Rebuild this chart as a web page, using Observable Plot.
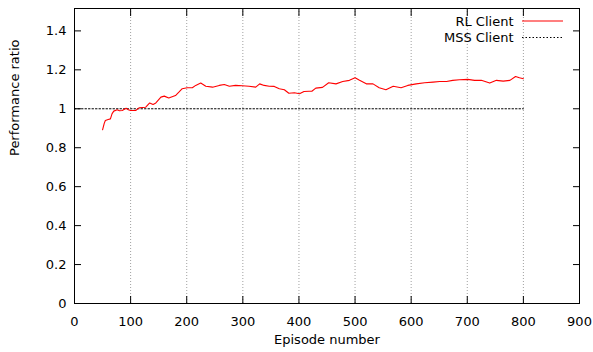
<!DOCTYPE html>
<html>
<head>
<meta charset="utf-8">
<script src="https://cdn.jsdelivr.net/npm/d3@7"></script>
<script src="https://cdn.jsdelivr.net/npm/@observablehq/plot@0.6"></script>
<style>
  html, body { margin: 0; padding: 0; background: #fff; }
  svg { display: block; }
</style>
</head>
<body>
<div id="chart"></div>
<script>
const episodes = [50,53,55,60,64,67,70,76,80,85,92,96,100,109,115,127,134,140,145,154,160,168,180,186,192,201,210,216,225,234,246,258,267,276,287,299,311,323,330,338,347,356,365,374,382,392,401,409,418,423,430,442,453,466,478,490,500,508,520,532,543,555,568,582,594,609,624,639,651,663,674,686,701,713,725,740,752,764,776,786,793,800];
const rlRatio = [0.892,0.925,0.94,0.945,0.948,0.975,0.988,0.995,0.99,0.991,1.003,0.995,0.991,0.991,1.005,1.008,1.03,1.022,1.03,1.06,1.065,1.055,1.068,1.085,1.103,1.108,1.108,1.12,1.132,1.116,1.111,1.12,1.125,1.116,1.12,1.118,1.116,1.111,1.128,1.12,1.116,1.115,1.103,1.098,1.08,1.082,1.077,1.089,1.09,1.09,1.106,1.11,1.134,1.128,1.14,1.146,1.159,1.146,1.128,1.128,1.108,1.098,1.116,1.108,1.12,1.128,1.134,1.137,1.14,1.14,1.146,1.149,1.151,1.146,1.146,1.132,1.146,1.142,1.146,1.166,1.159,1.154];
const mssEpisodes = [0, 800];
const mssRatio = [1, 1];
const xTicks = [0,100,200,300,400,500,600,700,800,900];
const yTicks = [0,0.2,0.4,0.6,0.8,1,1.2,1.4];
const seriesNames = ["RL Client", "MSS Client"];

const rl = episodes.map((e, i) => ({episode: e, ratio: rlRatio[i]}));
const mss = mssEpisodes.map((e, i) => ({episode: e, ratio: mssRatio[i]}));
const fmtY = d => String(+d.toFixed(1));
const innerX = xTicks.slice(1, -1);

const W = 593, H = 352, mL = 74, mR = 14, mT = 8, mB = 49;

const chart = Plot.plot({
  width: W, height: H,
  marginLeft: mL, marginRight: mR, marginTop: mT, marginBottom: mB,
  style: {fontFamily: "DejaVu Sans, sans-serif", fontSize: "13px", color: "#000", background: "#fff"},
  x: {domain: [0, 900]},
  y: {domain: [0, 1.515]},
  marks: [
    Plot.gridX(innerX, {stroke: "#a0a0a0", strokeOpacity: 1, strokeDasharray: "1,2"}),
    Plot.axisX(xTicks, {anchor: "bottom", tickSize: -7, tickPadding: 20, fontSize: 13, label: null}),
    Plot.axisX(xTicks, {anchor: "top", tickSize: -7, tickFormat: () => "", label: null}),
    Plot.axisY(yTicks, {anchor: "left", tickSize: -7, tickPadding: 15, tickFormat: fmtY, fontSize: 13, label: null}),
    Plot.axisY(yTicks, {anchor: "right", tickSize: -7, tickFormat: () => "", label: null}),
    Plot.line(mss, {x: "episode", y: "ratio", stroke: "black", strokeWidth: 1, strokeDasharray: "1.5,2"}),
    Plot.line(rl, {x: "episode", y: "ratio", stroke: "#ff0000", strokeWidth: 1.1}),
    Plot.frame({stroke: "black", strokeWidth: 1}),
    Plot.text(["Episode number"], {frameAnchor: "bottom", dy: 40, fontSize: 13}),
    Plot.text(["Performance ratio"], {frameAnchor: "left", dx: -60, rotate: -90, fontSize: 13}),
    Plot.text([seriesNames[0]], {frameAnchor: "top-right", dx: -66, dy: 13, lineAnchor: "middle", textAnchor: "end", fontSize: 13}),
    Plot.text([seriesNames[1]], {frameAnchor: "top-right", dx: -66, dy: 29.5, lineAnchor: "middle", textAnchor: "end", fontSize: 13})
  ]
});

// legend line samples
const svg = d3.select(chart);
svg.append("line").attr("x1", 522).attr("x2", 563).attr("y1", 21).attr("y2", 21)
  .attr("stroke", "#ff0000").attr("stroke-width", 1.1);
svg.append("line").attr("x1", 522).attr("x2", 563).attr("y1", 37.5).attr("y2", 37.5)
  .attr("stroke", "black").attr("stroke-width", 1).attr("stroke-dasharray", "1.5,2");

document.getElementById("chart").appendChild(chart);
</script>
</body>
</html>
